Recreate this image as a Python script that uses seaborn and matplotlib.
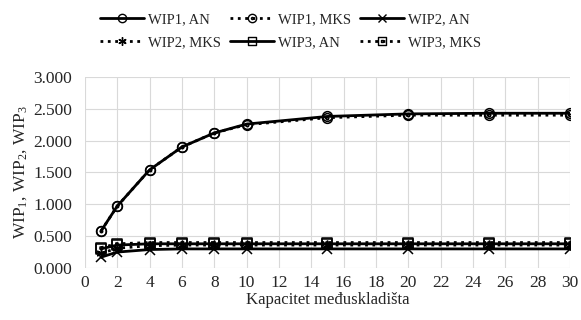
import numpy as np
import pandas as pd
import matplotlib
matplotlib.use("Agg")
import matplotlib.pyplot as plt
from matplotlib.path import Path
from matplotlib.lines import Line2D
from matplotlib.ticker import FuncFormatter, MultipleLocator
import seaborn as sns

capacity = [1, 2, 4, 6, 8, 10, 15, 20, 25, 30]
wip1_an = [0.58, 0.97, 1.54, 1.90, 2.12, 2.26, 2.38, 2.42, 2.43, 2.43]
wip1_mks = [0.58, 0.97, 1.54, 1.90, 2.12, 2.25, 2.36, 2.40, 2.40, 2.40]
wip2_an = [0.17, 0.25, 0.29, 0.30, 0.30, 0.30, 0.30, 0.30, 0.30, 0.30]
wip2_mks = [0.23, 0.31, 0.35, 0.36, 0.36, 0.36, 0.36, 0.36, 0.36, 0.36]
wip3_an = [0.30, 0.36, 0.38, 0.38, 0.38, 0.38, 0.38, 0.38, 0.38, 0.38]
wip3_mks = [0.32, 0.38, 0.40, 0.40, 0.40, 0.40, 0.40, 0.40, 0.40, 0.40]
labels = ["WIP1, AN", "WIP1, MKS", "WIP2, AN", "WIP2, MKS", "WIP3, AN", "WIP3, MKS"]

sns.set_style("white")
plt.rcParams['font.family'] = ['Liberation Serif', 'DejaVu Serif']
plt.rcParams['mathtext.fontset'] = 'custom'
plt.rcParams['mathtext.rm'] = 'Liberation Serif'
plt.rcParams['mathtext.it'] = 'Liberation Serif:italic'

# custom markers
circ = Path.unit_circle()
dot = Path(circ.vertices * 0.25, circ.codes)
circ_dot = Path.make_compound_path(circ, dot)
sq = Path([(-1, -1), (1, -1), (1, 1), (-1, 1), (-1, -1)],
          [Path.MOVETO, Path.LINETO, Path.LINETO, Path.LINETO, Path.CLOSEPOLY])
sdot = Path([(-0.3, -0.3), (0.3, -0.3), (0.3, 0.3), (-0.3, 0.3), (-0.3, -0.3)],
            [Path.MOVETO, Path.LINETO, Path.LINETO, Path.LINETO, Path.CLOSEPOLY])
sq_dot = Path.make_compound_path(sq, sdot)

series = [
    (wip1_an, '-', 'o'),
    (wip1_mks, ':', circ_dot),
    (wip2_an, '-', 'x'),
    (wip2_mks, ':', (6, 2, 0)),
    (wip3_an, '-', sq),
    (wip3_mks, ':', sq_dot),
]

fig = plt.figure(figsize=(5.81, 3.20), dpi=100)
ax = fig.add_axes([0.146, 0.1625, 0.835, 0.597])

handles = []
for (vals, ls, mk), lab in zip(series, labels):
    df = pd.DataFrame({"x": capacity, "y": vals})
    sns.lineplot(data=df, x="x", y="y", ax=ax, color="black", linestyle=ls,
                 linewidth=2.0, marker=mk, markersize=7, markerfacecolor='none',
                 markeredgecolor='black', markeredgewidth=1.1)
    handles.append(Line2D([], [], color='black', linestyle=ls, linewidth=2.0,
                          marker=mk, markersize=6, markerfacecolor='none',
                          markeredgecolor='black', markeredgewidth=1.0))

ax.set_xlim(0, 30)
ax.set_ylim(0, 3)
ax.xaxis.set_major_locator(MultipleLocator(2))
ax.yaxis.set_major_locator(MultipleLocator(0.5))
ax.yaxis.set_major_formatter(FuncFormatter(lambda v, p: f"{v:.3f}"))
ax.grid(True, color='#d9d9d9', linewidth=0.8)
for s in ax.spines.values():
    s.set_visible(False)
ax.tick_params(axis='y', length=0, labelsize=12.5, pad=9)
ax.tick_params(axis='x', length=0, labelsize=12.5, pad=5)
ax.set_xlabel("Kapacitet međuskladišta", fontsize=12, labelpad=1)
ax.set_ylabel(r"WIP$_1$, WIP$_2$, WIP$_3$", fontsize=12.5, labelpad=3)

order = [0, 3, 1, 4, 2, 5]
fig.legend([handles[i] for i in order], [labels[i] for i in order],
           loc='upper center', ncol=3, frameon=False,
           bbox_to_anchor=(0.5, 1.0), fontsize=10.5, handlelength=3.0,
           columnspacing=0.6, handletextpad=0.3, labelspacing=0.65)

fig.savefig("out.png", dpi=100)
